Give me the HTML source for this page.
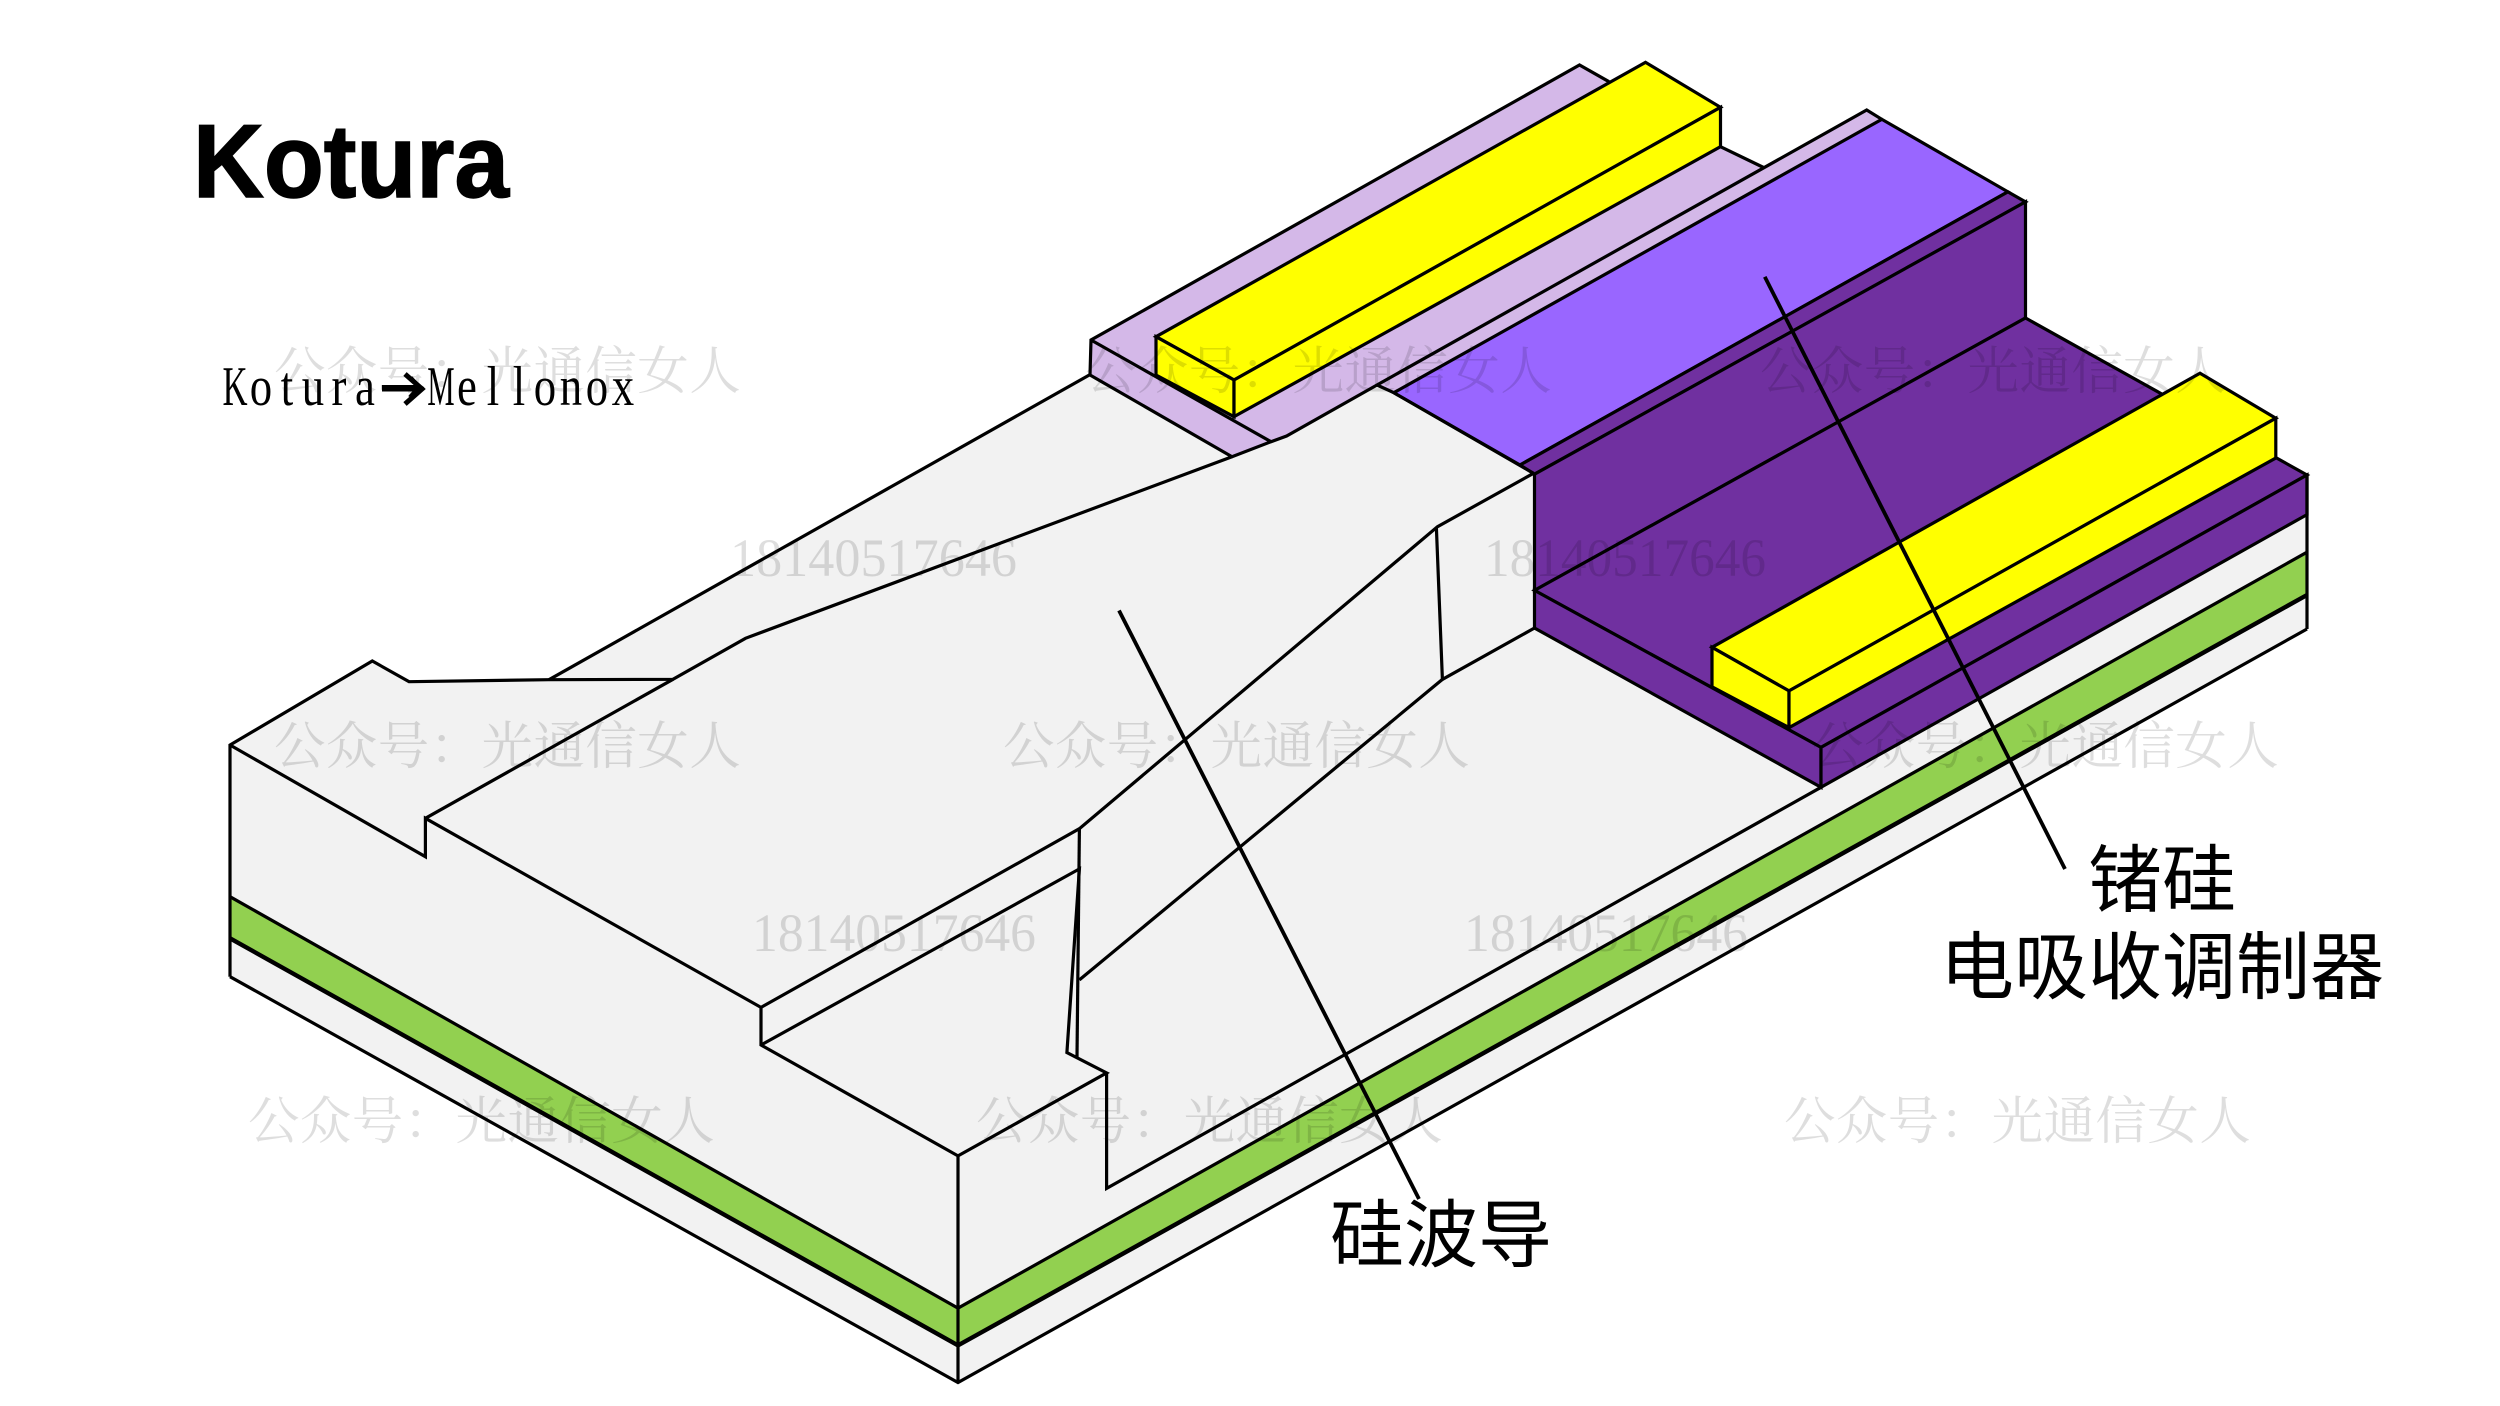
<!DOCTYPE html>
<html><head><meta charset="utf-8"><style>
html,body{margin:0;padding:0;background:#fff;width:2500px;height:1406px;overflow:hidden}
svg{display:block}
.wm{font-family:"Noto Serif CJK SC",serif;font-size:51.5px;letter-spacing:.4px;fill:#000;fill-opacity:.13}
.num{font-family:"Liberation Serif",serif;font-size:54px;fill:#000;fill-opacity:.13}
.lb{font-family:"Liberation Sans","Noto Sans CJK SC",sans-serif;font-size:74px;fill:#000}
</style></head><body>
<svg width="2500" height="1406" viewBox="0 0 2500 1406" xmlns="http://www.w3.org/2000/svg" stroke-linejoin="miter">
<rect width="2500" height="1406" fill="#fff"/>
<!-- base -->
<polygon fill="#f2f2f2" points="230,745 372.3,661 409,681.7 549,679.7 1089.3,375 1377,385 1533.5,473.3 1534.5,628 1821,787.3 2307,514.6 2307,629 958,1382.5 230,976.7"/>
<polygon fill="#92d050" points="230,896.7 958,1308.2 2307,552.2 2307,595 958,1345.4 230,938.3"/>
<g stroke="#000" stroke-width="3.2" fill="none">
<!-- lilac -->
<polygon fill="#d4b8e8" stroke="none" points="1091,340 1579.5,65 1609,81.7 1720.5,146.7 1763.6,167.5 1866.7,110 1881.8,119.3 1393.8,392.7 1377,385 1286.6,436 1271,441.7 1232,456.7 1090,375"/>
<polyline points="1609,81.7 1579.5,65 1091,340 1090,375 1232,456.7 1271,441.7 1286.6,436 1377,385 1866.7,110 1881.8,119.3"/>
<polyline points="1720.5,146.7 1763.6,167.5"/>
<polyline points="1091,340 1271,441.7"/>
<!-- top yellow -->
<polygon fill="#ffff00" points="1156,336.7 1645.5,62.3 1720.5,107.3 1234,380"/>
<polygon fill="#ffff00" points="1156,336.7 1234,380 1234,416.7 1156,375"/>
<polygon fill="#ffff00" points="1234,380 1720.5,107.3 1720.5,146.7 1234,416.7"/>
<!-- bright purple -->
<polygon fill="#9966ff" points="1393.8,392.7 1881.8,119.3 2007.9,191.8 1520,465"/>
<polygon fill="#7030a0" points="1520,465 2007.9,191.8 2025.5,201.9 1534.5,474.2"/>
<polygon fill="#7030a0" points="1534.5,474.2 2025.5,201.9 2025.5,318 1534.5,590.4"/>
<!-- lower purple -->
<polygon fill="#7030a0" points="1534.5,590.4 2025.5,318 2307,475 1821,747.4"/>
<polygon fill="#7030a0" points="1534.5,590.4 1821,747.4 1821,787.3 1534.5,628"/>
<polygon fill="#7030a0" points="1821,747.4 2307,475 2307,514.6 1821,787.3"/>
<!-- lower yellow -->
<polygon fill="#ffff00" points="1712,647.3 2200,373.2 2275.8,418.2 1789,690.9"/>
<polygon fill="#ffff00" points="1712,647.3 1789,690.9 1789,727.6 1712,686.8"/>
<polygon fill="#ffff00" points="1789,690.9 2275.8,418.2 2275.8,458 1789,727.6"/>
<!-- silicon outlines -->
<polyline points="1089.3,375 549,679.7"/>
<polyline points="230,976.7 230,745 372.3,661 409,681.7 549,679.7 673,679.3 745.5,638.3 1232,456.7"/>
<polyline points="230,745 425.4,856.7 425.4,818.3 761,1007.4 761,1045 958,1155.9 958,1382.5"/>
<polyline points="425.4,818.3 673,679.3"/>
<polyline points="761,1007.4 1079.4,828.7 1437.5,526.7 1533.5,473.3"/>
<polyline points="1377,385 1393.8,392.7 1533.5,473.3"/>
<polyline points="761,1045 1079.4,868.9 1066.9,1052.6 1106.6,1072.9 958,1155.9"/>
<polyline points="1079.4,828.7 1077,1057"/>
<polyline points="1106.6,1072.9 1106.6,1188.4 1821,787.3"/>
<polyline points="1436.4,527.9 1442.4,679.4 1534.5,628"/>
<polyline points="1442.4,679.4 1079.4,979.9"/>
<polyline points="2307,475 2307,629"/>
<polyline points="230,896.7 958,1308.2 2307,552.2"/>
<polyline points="230,938.3 958,1345.4 2307,595" stroke-width="4.4"/>
<polyline points="230,976.7 958,1382.5 2307,629"/>
<!-- pointers -->
<line x1="1119" y1="610.5" x2="1419" y2="1199" stroke-width="3.8"/>
<line x1="1764.8" y1="276.8" x2="2065" y2="869" stroke-width="3.8"/>
</g>
<!-- watermarks -->
<g>
<text class="wm" x="274" y="389">公众号：光通信女人</text>
<text class="wm" x="1085" y="389">公众号：光通信女人</text>
<text class="wm" x="1760" y="389">公众号：光通信女人</text>
<text class="wm" x="274" y="764">公众号：光通信女人</text>
<text class="wm" x="1003" y="764">公众号：光通信女人</text>
<text class="wm" x="1812" y="764">公众号：光通信女人</text>
<text class="wm" x="248" y="1139">公众号：光通信女人</text>
<text class="wm" x="976" y="1139">公众号：光通信女人</text>
<text class="wm" x="1784" y="1139">公众号：光通信女人</text>
</g>
<text class="num" x="730" y="576" textLength="287" lengthAdjust="spacingAndGlyphs">18140517646</text>
<text class="num" x="1484" y="576" textLength="282" lengthAdjust="spacingAndGlyphs">18140517646</text>
<text class="num" x="752" y="951" textLength="284" lengthAdjust="spacingAndGlyphs">18140517646</text>
<text class="num" x="1464" y="951" textLength="284" lengthAdjust="spacingAndGlyphs">18140517646</text>
<!-- title -->
<text x="193" y="197" font-family="'Liberation Sans',sans-serif" font-weight="700" font-size="104" textLength="316" lengthAdjust="spacingAndGlyphs" fill="#000" stroke="#000" stroke-width="1.5">Kotura</text>
<g font-family="'Liberation Serif',serif" font-size="56" fill="#000" text-anchor="middle">
<text transform="scale(.62,1)" x="379" y="405">K</text>
<text transform="scale(.8,1)" x="326.25 358.75 391.25 423.75 456.25" y="405">otura</text>
<text transform="scale(.55,1)" x="801.8" y="405">M</text>
<text transform="scale(.8,1)" x="583.75 616.25 648.75 681.25 713.75 746.25 778.75" y="405">ellonox</text>
</g>
<text x="380" y="405" font-family="'Noto Sans CJK SC',sans-serif" font-weight="700" font-size="46" fill="#000" textLength="46" lengthAdjust="spacingAndGlyphs">→</text>
<path d="M382 389H421M405 374L422 389L405 404" fill="none" stroke="#000" stroke-width="5"/>
<!-- labels -->
<text class="lb" x="1330" y="1261">硅波导</text>
<text class="lb" x="2088" y="906">锗硅</text>
<text class="lb" x="1940" y="993">电吸收调制器</text>
</svg>
</body></html>
